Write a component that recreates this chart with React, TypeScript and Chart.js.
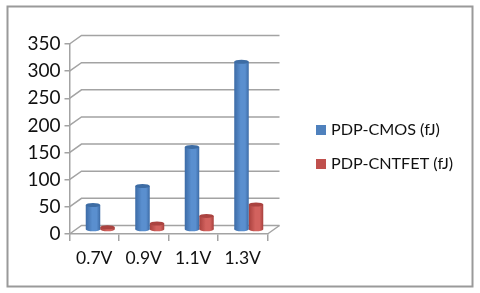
import React, { useEffect, useRef } from "react";
import { Chart, registerables } from "chart.js";

Chart.register(...registerables);

const categories = ["0.7V", "0.9V", "1.1V", "1.3V"];
const cmosValues = [46, 81, 153, 310];
const cntfetValues = [5, 12, 26, 47];
const yTickStep = 50;
const yMax = 350;

const GRID = "#a3a3a3";
const FRAME = "#9a9a9a";
const FONT = "Lato, 'Open Sans', sans-serif";
const DEPTH_X = 12;
const DEPTH_Y = -8.5;
const BAR_DX = 6;
const BAR_DY = -4;
const CAP_RY = 2;

const shades = [
  { edge: "#3c6ba6", mid: "#5a8fcf", cap: "#3d6ca4", key: "#4f81bd" },
  { edge: "#a8403d", mid: "#d2625e", cap: "#aa4340", key: "#c0504d" },
];
const legendRows = [130, 164];

function barGradient(ctx: any, x0: number, x1: number, s: { edge: string; mid: string }) {
  const g = ctx.createLinearGradient(x0, 0, x1, 0);
  g.addColorStop(0, s.edge);
  g.addColorStop(0.45, s.mid);
  g.addColorStop(0.75, s.mid);
  g.addColorStop(1, s.edge);
  return g;
}

const scriptedFill = (datasetIndex: number) => (c: any) => {
  const chart = c.chart;
  const xs = chart.scales.x;
  if (!xs || c.type !== "data") return shades[datasetIndex].mid;
  const step = (xs.right - xs.left) / categories.length;
  const bw = step * 0.586 * 0.5;
  const center = xs.getPixelForTick(c.dataIndex) + (datasetIndex - 0.5) * bw;
  if (!Number.isFinite(center) || !Number.isFinite(bw)) return shades[datasetIndex].mid;
  return barGradient(chart.ctx, center - bw / 2, center + bw / 2, shades[datasetIndex]);
};

const frame3d = {
  id: "frame3d",
  beforeDraw(chart: any) {
    const { ctx } = chart;
    ctx.save();
    ctx.strokeStyle = FRAME;
    ctx.lineWidth = 2;
    ctx.strokeRect(7.5, 6.5, 465, 280);
    ctx.restore();
  },
  beforeDatasetsDraw(chart: any) {
    const { ctx, scales } = chart;
    const { x, y } = scales;
    ctx.save();
    ctx.strokeStyle = GRID;
    ctx.lineWidth = 1.5;
    y.ticks.forEach((t: any) => {
      const py = y.getPixelForValue(t.value);
      ctx.beginPath();
      ctx.moveTo(x.left, py);
      ctx.lineTo(x.left + DEPTH_X, py + DEPTH_Y);
      ctx.lineTo(x.right + DEPTH_X, py + DEPTH_Y);
      ctx.stroke();
    });
    const base = y.getPixelForValue(0);
    ctx.beginPath();
    ctx.moveTo(x.right, base);
    ctx.lineTo(x.right + DEPTH_X, base + DEPTH_Y);
    ctx.stroke();
    ctx.restore();
    ctx.save();
    ctx.translate(BAR_DX, BAR_DY);
  },
  afterDatasetsDraw(chart: any) {
    const { ctx } = chart;
    chart.data.datasets.forEach((_: any, di: number) => {
      chart.getDatasetMeta(di).data.forEach((bar: any) => {
        const p = bar.getProps(["x", "y", "base", "width"], true);
        const rx = p.width / 2;
        ctx.fillStyle = barGradient(ctx, p.x - rx, p.x + rx, shades[di]);
        ctx.beginPath();
        ctx.ellipse(p.x, p.base, rx, CAP_RY, 0, 0, Math.PI * 2);
        ctx.fill();
        ctx.fillStyle = shades[di].cap;
        ctx.beginPath();
        ctx.ellipse(p.x, p.y, rx, CAP_RY, 0, 0, Math.PI * 2);
        ctx.fill();
      });
    });
    ctx.restore();
    ctx.save();
    ctx.font = `16.2px ${FONT}`;
    ctx.textBaseline = "middle";
    ctx.textAlign = "left";
    chart.data.datasets.forEach((d: any, i: number) => {
      ctx.fillStyle = shades[i].key;
      ctx.fillRect(316, legendRows[i] - 5, 10, 10);
      ctx.fillStyle = "#111";
      ctx.fillText(d.label, 331, legendRows[i]);
    });
    ctx.restore();
  },
};

export default function App() {
  const ref = useRef<HTMLCanvasElement>(null);
  useEffect(() => {
    const chart = new Chart(ref.current as HTMLCanvasElement, {
      type: "bar",
      data: {
        labels: categories,
        datasets: [
          { label: "PDP-CMOS (fJ)", data: cmosValues, backgroundColor: scriptedFill(0) as any },
          { label: "PDP-CNTFET (fJ)", data: cntfetValues, backgroundColor: scriptedFill(1) as any },
        ],
      },
      options: {
        responsive: false,
        animation: false,
        layout: { padding: { top: 44, left: 0, right: 212.5, bottom: 0 } },
        datasets: { bar: { barPercentage: 1, categoryPercentage: 0.586 } },
        plugins: {
          tooltip: { enabled: false },
          legend: { display: false },
        },
        scales: {
          x: {
            grid: { drawOnChartArea: false, color: GRID, tickLength: 7, lineWidth: 1.5 },
            border: { color: GRID, width: 1.5 },
            ticks: { color: "#111", font: { family: FONT, size: 17.5 }, padding: 7, maxRotation: 0 },
            afterFit: (s: any) => { s.height = 59; },
          },
          y: {
            min: 0,
            max: yMax,
            grid: { drawOnChartArea: false, color: GRID, tickLength: 5, lineWidth: 1.5 },
            border: { color: GRID, width: 1.5 },
            ticks: { stepSize: yTickStep, color: "#111", font: { family: FONT, size: 19 }, padding: 4 },
            afterFit: (s: any) => { s.width = 69.5; },
          },
        },
      },
      plugins: [frame3d],
    } as any);
    return () => chart.destroy();
  }, []);
  return (
    <canvas
      ref={ref}
      width={480}
      height={293}
      style={{ position: "absolute", left: 0, top: 0, width: 480, height: 293, background: "#fff" }}
    />
  );
}
